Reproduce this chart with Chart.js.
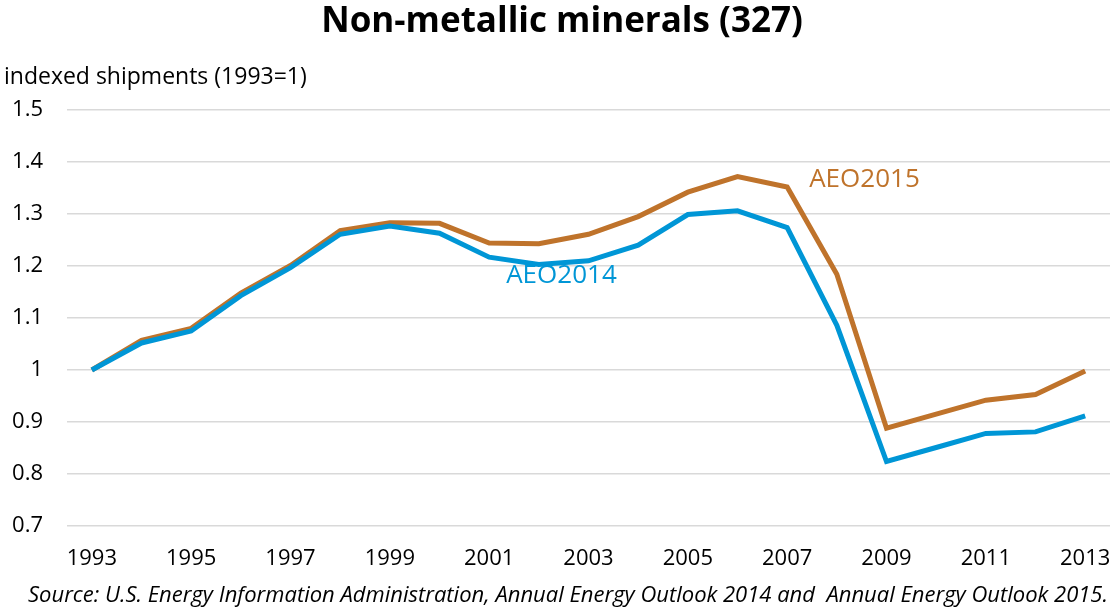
<!DOCTYPE html>
<html>
<head>
<meta charset="utf-8">
<script src="https://cdn.jsdelivr.net/npm/chart.js@4.4.1/dist/chart.umd.min.js"></script>
<style>
  html, body { margin: 0; padding: 0; background: #fff; }
  #wrap { width: 1111px; height: 609px; position: relative; }
</style>
</head>
<body>
<div id="wrap"><canvas id="chart"></canvas></div>
<script>
// data
const years = ['1993','1994','1995','1996','1997','1998','1999','2000','2001','2002','2003',
               '2004','2005','2006','2007','2008','2009','2010','2011','2012','2013'];
const aeo2015 = [1.000, 1.057, 1.080, 1.148, 1.201, 1.268, 1.283, 1.282, 1.244, 1.243, 1.261,
                 1.295, 1.342, 1.372, 1.352, 1.184, 0.888, 0.915, 0.942, 0.953, 0.998];
const aeo2014 = [1.000, 1.052, 1.075, 1.143, 1.197, 1.261, 1.277, 1.263, 1.217, 1.203, 1.210,
                 1.240, 1.299, 1.306, 1.274, 1.086, 0.824, 0.851, 0.878, 0.881, 0.912];
const yTicks = [0.7, 0.8, 0.9, 1, 1.1, 1.2, 1.3, 1.4, 1.5];

const FONT = '"Open Sans", "Noto Sans", sans-serif';
const brown = '#BF732B';
const blue = '#0096D6';

// titles, axis label, line labels and source line
const textPlugin = {
    id: 'texts',
    afterDraw(chart) {
        const ctx = chart.ctx;
        const x = chart.scales.x, y = chart.scales.y;
        ctx.save();
        ctx.textBaseline = 'middle';

        ctx.fillStyle = '#000';
        ctx.textAlign = 'center';
        ctx.font = 'bold 35px ' + FONT;
        ctx.fillText('Non-metallic minerals (327)', 562, 22);

        ctx.textAlign = 'left';
        ctx.font = '23px ' + FONT;
        ctx.fillText('indexed shipments (1993=1)', 4, 77);

        ctx.font = '26px ' + FONT;
        ctx.fillStyle = brown;
        ctx.fillText('AEO2015', x.getPixelForValue(14) + 22, y.getPixelForValue(1.366));
        ctx.fillStyle = blue;
        ctx.fillText('AEO2014', x.getPixelForValue(8) + 17, y.getPixelForValue(1.182));

        ctx.fillStyle = '#000';
        ctx.textAlign = 'right';
        ctx.font = 'italic 22px ' + FONT;
        ctx.fillText('Source: U.S. Energy Information Administration, Annual Energy Outlook 2014 and  Annual Energy Outlook 2015.', 1108, 596);
        ctx.restore();
    }
};

new Chart(document.getElementById('chart'), {
    type: 'line',
    data: {
        labels: years,
        datasets: [
            { label: 'AEO2014', data: aeo2014, borderColor: blue, borderWidth: 5, pointRadius: 0, tension: 0 },
            { label: 'AEO2015', data: aeo2015, borderColor: brown, borderWidth: 5, pointRadius: 0, tension: 0 }
        ]
    },
    options: {
        responsive: true,
        maintainAspectRatio: false,
        animation: false,
        layout: { padding: { top: 110, right: 1, bottom: 35, left: 0 } },
        plugins: { legend: { display: false }, tooltip: { enabled: false } },
        scales: {
            x: {
                offset: true,
                grid: { display: false },
                border: { display: false },
                afterFit(scale) {
                    scale.height = 48;
                    scale.paddingLeft = 0;
                    scale.paddingRight = 0;
                },
                ticks: {
                    autoSkip: false,
                    maxRotation: 0,
                    padding: 12,
                    color: '#000',
                    font: { family: FONT, size: 22 },
                    callback(val, i) { return i % 2 === 0 ? years[i] : ''; }
                }
            },
            y: {
                min: 0.7,
                max: 1.5,
                afterBuildTicks(scale) { scale.ticks = yTicks.map(v => ({ value: v })); },
                afterFit(scale) {
                    scale.width = 67;
                    scale.paddingTop = 0;
                    scale.paddingBottom = 0;
                },
                grid: { color: '#d9d9d9', lineWidth: 1.5, drawTicks: false },
                border: { display: false },
                ticks: {
                    padding: 24,
                    color: '#000',
                    font: { family: FONT, size: 22 },
                    callback(v) { return String(Math.round(v * 10) / 10); }
                }
            }
        }
    },
    plugins: [textPlugin]
});
</script>
</body>
</html>
